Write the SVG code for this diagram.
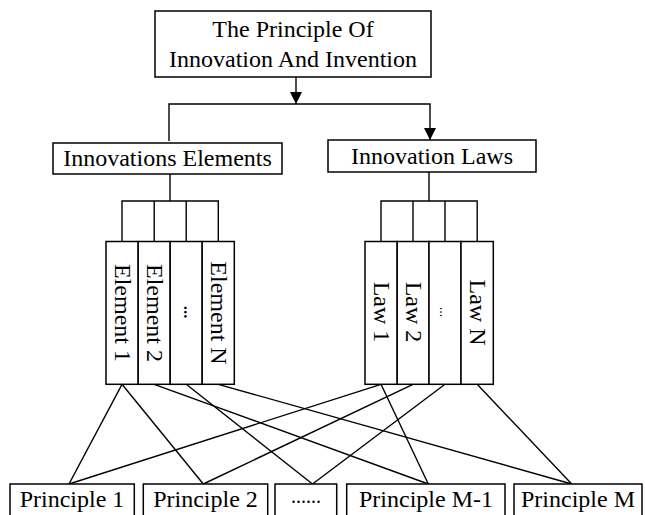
<svg xmlns="http://www.w3.org/2000/svg" width="645" height="515" viewBox="0 0 645 515">
  <defs>
    <marker id="arrow" viewBox="0 0 12 12" refX="12" refY="6" markerWidth="12" markerHeight="12" markerUnits="userSpaceOnUse" orient="auto">
      <path d="M0,0 L12,6 L0,12 Z" fill="#000"/>
    </marker>
    <style>
      .box { fill: #fff; stroke: #000; stroke-width: 1.5; }
      .ln { fill: none; stroke: #000; stroke-width: 1.4; }
      .t { font-family: "Liberation Serif", "Times New Roman", serif; font-size: 24px; fill: #000; }
      .mid { text-anchor: middle; }
    </style>
  </defs>
  <rect width="645" height="515" fill="#fff"/>

  <!-- connectors -->
  <g id="connectors">
    <!-- root to the two branches -->
    <line class="ln" x1="296" y1="77" x2="296" y2="104" marker-end="url(#arrow)"/>
    <polyline class="ln" points="169,141 169,104 430,104 430,140" marker-end="url(#arrow)"/>
    <!-- elements bracket -->
    <line class="ln" x1="170" y1="174" x2="170" y2="201"/>
    <polyline class="ln" points="122,241.5 122,201 218.3,201 218.3,241.5"/>
    <line class="ln" x1="154.2" y1="201" x2="154.2" y2="241.5"/>
    <line class="ln" x1="186.2" y1="201" x2="186.2" y2="241.5"/>
    <!-- laws bracket -->
    <line class="ln" x1="429" y1="172" x2="429" y2="201"/>
    <polyline class="ln" points="381,241.5 381,201 477.2,201 477.2,241.5"/>
    <line class="ln" x1="413" y1="201" x2="413" y2="241.5"/>
    <line class="ln" x1="445" y1="201" x2="445" y2="241.5"/>
    <!-- elements to principles -->
    <line class="ln" x1="122" y1="384.3" x2="69" y2="484"/>
    <line class="ln" x1="122" y1="384.3" x2="203.3" y2="484"/>
    <line class="ln" x1="154.2" y1="384.3" x2="428.3" y2="484"/>
    <line class="ln" x1="186.2" y1="384.3" x2="312.5" y2="484"/>
    <line class="ln" x1="218.3" y1="384.3" x2="571.7" y2="484"/>
    <!-- laws to principles -->
    <line class="ln" x1="381" y1="384.3" x2="69" y2="484"/>
    <line class="ln" x1="381" y1="384.3" x2="428.3" y2="484"/>
    <line class="ln" x1="413" y1="384.3" x2="203.3" y2="484"/>
    <line class="ln" x1="445" y1="384.3" x2="312.5" y2="484"/>
    <line class="ln" x1="477.2" y1="384.3" x2="571.7" y2="484"/>
  </g>

  <!-- root -->
  <g id="root">
    <rect class="box" x="155" y="11" width="276" height="66"/>
    <text class="t mid" x="293" y="37">The Principle Of</text>
    <text class="t mid" x="293" y="67">Innovation And Invention</text>
  </g>

  <!-- branches -->
  <g id="elements">
    <rect class="box" x="53" y="143" width="229" height="31"/>
    <text class="t mid" x="167.5" y="166">Innovations Elements</text>
  </g>
  <g id="laws">
    <rect class="box" x="328" y="140" width="208" height="32"/>
    <text class="t mid" x="432" y="164">Innovation Laws</text>
  </g>

  <!-- element columns -->
  <g id="element-1">
    <rect class="box" x="106" y="241.5" width="32.2" height="142.8"/>
    <text class="t mid" transform="translate(114.5,313) rotate(90)">Element 1</text>
  </g>
  <g id="element-2">
    <rect class="box" x="138.2" y="241.5" width="32" height="142.8"/>
    <text class="t mid" transform="translate(146.7,313) rotate(90)">Element 2</text>
  </g>
  <g id="element-dots">
    <rect class="box" x="170.2" y="241.5" width="32" height="142.8"/>
    <text class="t mid" style="font-size:17px;font-weight:bold" transform="translate(183.5,312) rotate(90)">...</text>
  </g>
  <g id="element-n">
    <rect class="box" x="202.2" y="241.5" width="32.1" height="142.8"/>
    <text class="t mid" transform="translate(210.8,313) rotate(90)">Element N</text>
  </g>

  <!-- law columns -->
  <g id="law-1">
    <rect class="box" x="365" y="241.5" width="32.2" height="142.8"/>
    <text class="t mid" transform="translate(373.5,312) rotate(90)">Law 1</text>
  </g>
  <g id="law-2">
    <rect class="box" x="397.2" y="241.5" width="31.8" height="142.8"/>
    <text class="t mid" transform="translate(405.5,312) rotate(90)">Law 2</text>
  </g>
  <g id="law-dots">
    <rect class="box" x="429" y="241.5" width="32" height="142.8"/>
    <text class="t mid" style="font-size:14px" transform="translate(440,312) rotate(90)">...</text>
  </g>
  <g id="law-n">
    <rect class="box" x="461" y="241.5" width="32.3" height="142.8"/>
    <text class="t mid" transform="translate(469.5,312.5) rotate(90)">Law N</text>
  </g>

  <!-- principles -->
  <g id="principle-1">
    <rect class="box" x="10" y="484" width="124.3" height="40"/>
    <text class="t mid" x="72" y="506.5">Principle 1</text>
  </g>
  <g id="principle-2">
    <rect class="box" x="143.3" y="484" width="124.4" height="40"/>
    <text class="t mid" x="205.5" y="506.5">Principle 2</text>
  </g>
  <g id="principle-dots">
    <rect class="box" x="275" y="484" width="61.7" height="40"/>
    <text class="t mid" style="font-size:20px" x="306" y="503">......</text>
  </g>
  <g id="principle-m1">
    <rect class="box" x="346.7" y="484" width="158.3" height="40"/>
    <text class="t mid" x="426" y="506.5">Principle M-1</text>
  </g>
  <g id="principle-m">
    <rect class="box" x="514" y="484" width="128" height="40"/>
    <text class="t mid" x="578" y="506.5">Principle M</text>
  </g>
</svg>
